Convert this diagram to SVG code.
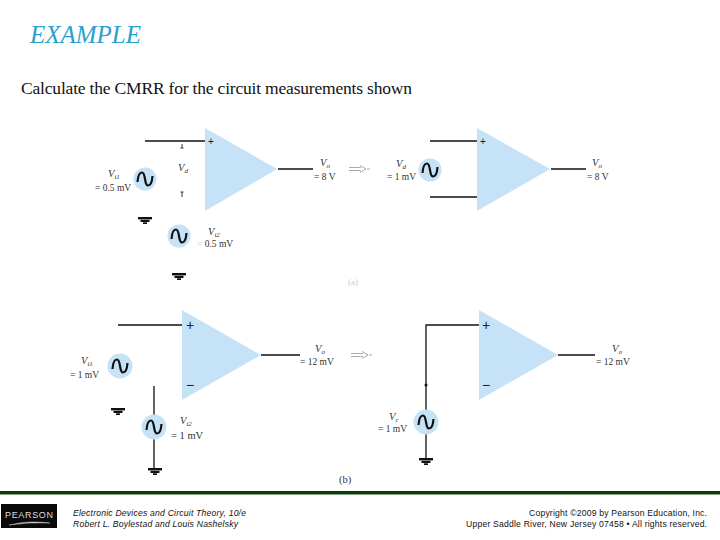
<svg xmlns="http://www.w3.org/2000/svg" width="720" height="540" viewBox="0 0 720 540">
<style>
.amp{fill:#c5e2f6}
.src{fill:#c5e2f6}
.sine{fill:none;stroke:#111;stroke-width:2.200}
.wire{fill:none;stroke:#111;stroke-width:1.300}
.gnd{fill:#111}
.lab{font-family:"Liberation Serif",serif;font-size:9.500px;fill:#333}
.lab2{font-family:"Liberation Serif",serif;font-size:10.500px;fill:#333}
.v{font-family:"Liberation Serif",serif;font-size:10.500px;font-style:italic;fill:#333}
.sub{font-size:7px}
.sign{font-family:"Liberation Sans",sans-serif;font-size:10px;fill:#222}
.sign2{font-family:"Liberation Sans",sans-serif;font-size:14px;fill:#222}
.foot{font-family:"Liberation Sans",sans-serif;font-size:8.600px;fill:#111}
.arrow{fill:none;stroke:#aaa;stroke-width:1}
</style>
<defs>
<g id="sine"><path class="sine" d="M-7.500,3 C-7,-4 -5,-6.500 -3,-6.500 C1,-6.500 -1,6.500 3,6.500 C5,6.500 7,4 7.500,-3"/></g>
<g id="gs"><rect x="-7" y="0" width="14" height="2.400"/><rect x="-4.500" y="2.800" width="9" height="2.200"/><rect x="-2" y="5.300" width="4" height="1.700"/></g>
<g id="arr"><path class="arrow" d="M0,-1.500H12M0,1.500H12M11,-3.500L17,0L11,3.500M18,0H21"/></g>
</defs>

<text x="30" y="43" font-family="'Liberation Serif',serif" font-style="italic" font-size="25" fill="#2a9fd0" textLength="111" lengthAdjust="spacingAndGlyphs">EXAMPLE</text>
<text x="21" y="94" font-family="'Liberation Serif',serif" font-size="17.500" fill="#111" textLength="391">Calculate the CMRR for the circuit measurements shown</text>

<g id="connectors">
<path class="wire" d="M145,141H205M278,169H313"/>
<path class="wire" d="M430,141H477M430,197H477M551,169H586"/>
<path class="wire" d="M118,325H182M261,355H300M154,386V415M154,439V468"/>
<path class="wire" d="M479,325H426V410M426,434V458M558,355H595"/>
<circle cx="426" cy="385" r="1.500" fill="#111"/>
<path d="M182,144V148M180.500,148H183.500M182,192V197M180.500,192H183.500" stroke="#333" fill="none"/>
</g>

<g id="amp-a-left"><path class="amp" d="M205,128V211L277,169Z"/><text class="sign" x="208" y="145">+</text></g>
<g id="amp-a-right"><path class="amp" d="M477,128V211L550,169Z"/><text class="sign" x="480" y="145">+</text></g>
<g id="amp-b-left"><path class="amp" d="M182,310V400L261,355Z"/><text class="sign2" x="186" y="330">+</text><text class="sign2" x="186" y="390">−</text></g>
<g id="amp-b-right"><path class="amp" d="M479,310V400L558,355Z"/><text class="sign2" x="482" y="330">+</text><text class="sign2" x="482" y="390">−</text></g>

<g id="src-a1"><circle class="src" cx="145" cy="179" r="11.500"/><use href="#sine" x="145" y="179"/></g>
<g id="src-a2"><circle class="src" cx="179" cy="236" r="11.500"/><use href="#sine" x="179" y="236"/></g>
<g id="src-a3"><circle class="src" cx="430" cy="170" r="11.500"/><use href="#sine" x="430" y="170"/></g>
<g id="src-b1"><circle class="src" cx="120" cy="366" r="12.500"/><use href="#sine" x="120" y="366"/></g>
<g id="src-b2"><circle class="src" cx="154" cy="427" r="12.500"/><use href="#sine" x="154" y="427"/></g>
<g id="src-b3"><circle class="src" cx="426" cy="422" r="12.500"/><use href="#sine" x="426" y="422"/></g>

<g id="grounds" class="gnd">
<use href="#gs" x="145" y="217"/>
<use href="#gs" x="179" y="273"/>
<use href="#gs" x="118" y="408"/>
<use href="#gs" x="155" y="468"/>
<use href="#gs" x="426" y="458"/>
</g>

<g id="labels">
<text class="v" x="108" y="177">V<tspan class="sub" dy="2">i1</tspan></text>
<text class="lab" x="95" y="191">= 0.5 mV</text>
<text class="v" x="178" y="171">V<tspan class="sub" dy="2">d</tspan></text>
<text class="v" x="208" y="235">V<tspan class="sub" dy="2">i2</tspan></text>
<text class="lab" x="197" y="247"><tspan fill="#ccc">= </tspan>0.5 mV</text>
<text class="v" x="320" y="166">V<tspan class="sub" dy="2">o</tspan></text>
<text class="lab" x="314" y="180">= 8 V</text>
<use href="#arr" x="349" y="169"/>
<text x="348" y="285" font-family="'Liberation Serif',serif" font-size="9" fill="#ccc">(a)</text>
<text class="v" x="396" y="167">V<tspan class="sub" dy="2">d</tspan></text>
<text class="lab" x="387" y="180">= 1 mV</text>
<text class="v" x="592" y="166">V<tspan class="sub" dy="2">o</tspan></text>
<text class="lab" x="587" y="180">= 8 V</text>
<text class="v" x="81" y="364">V<tspan class="sub" dy="2">i1</tspan></text>
<text class="lab" x="70" y="378">= 1 mV</text>
<text class="v" x="315" y="352">V<tspan class="sub" dy="2">o</tspan></text>
<text class="lab" x="300" y="365">= 12 mV</text>
<use href="#arr" x="351" y="355"/>
<text class="v" x="180" y="424">V<tspan class="sub" dy="2">i2</tspan></text>
<text class="lab2" x="171" y="439">= 1 mV</text>
<text class="lab2" x="339" y="483">(b)</text>
<text class="v" x="389" y="420">V<tspan class="sub" dy="2">c</tspan></text>
<text class="lab" x="378" y="432">= 1 mV</text>
<text class="v" x="612" y="352">V<tspan class="sub" dy="2">o</tspan></text>
<text class="lab" x="596" y="365">= 12 mV</text>
</g>

<g id="footer">
<rect x="0" y="491" width="720" height="3.500" fill="#0b3a0b"/>
<rect x="1" y="504" width="56" height="24" fill="#0a0a0a"/>
<text x="29" y="518" text-anchor="middle" font-family="'Liberation Sans',sans-serif" font-size="9" fill="#ddd" textLength="48">PEARSON</text>
<path d="M9,525Q29,520 50,523Q29,522 9,525Z" fill="#ddd" stroke="#ddd" stroke-width=".4"/>
<text class="foot" x="73" y="516" font-style="italic" textLength="173">Electronic Devices and Circuit Theory, 10/e</text>
<text class="foot" x="73" y="527" font-style="italic" textLength="165">Robert L. Boylestad and Louis Nashelsky</text>
<text class="foot" x="707" y="516" text-anchor="end" textLength="178">Copyright ©2009 by Pearson Education, Inc.</text>
<text class="foot" x="707" y="527" text-anchor="end" textLength="241">Upper Saddle River, New Jersey 07458 • All rights reserved.</text>
</g>
</svg>
